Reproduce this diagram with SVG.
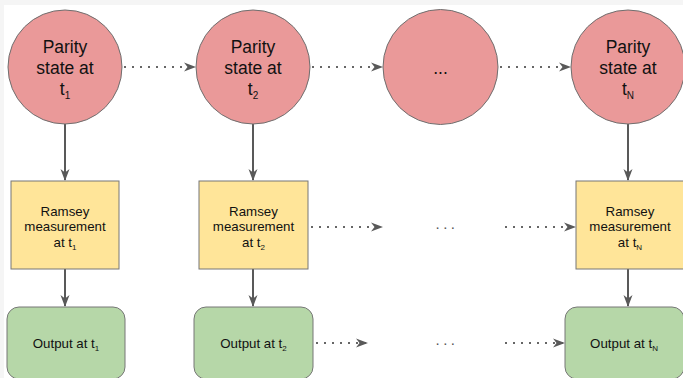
<svg xmlns="http://www.w3.org/2000/svg" width="683" height="378" viewBox="0 0 683 378">
<style>
.circ{fill:#ea9999;stroke:#6f6f6f;stroke-width:1}
.ram{fill:#ffe599;stroke:#777;stroke-width:1}
.out{fill:#b6d7a8;stroke:#777;stroke-width:1}
.t{font-family:"Liberation Sans",Arial,sans-serif;fill:#111;text-anchor:middle}
.big{font-size:17.5px}
.mid{font-size:13.3px}
.solid{stroke:#595959;stroke-width:2;fill:none}
.dot{stroke:#666;stroke-width:2;fill:none;stroke-dasharray:2 6}
.dots{font-family:"Liberation Sans",Arial,sans-serif;fill:#555;font-size:15px;text-anchor:middle;letter-spacing:3.5px}
</style>
<defs>
<marker id="ah" markerWidth="12" markerHeight="10" refX="11" refY="5" orient="auto" markerUnits="userSpaceOnUse">
<path d="M0,0.5 L12,5 L0,9.5 L3.5,5 Z" fill="#595959"/>
</marker>
</defs>
<rect x="0" y="0" width="683" height="378" fill="#f5f5f5"/>
<rect x="4" y="5" width="679" height="373" fill="#ffffff"/>

<g id="connectors">
<line class="solid" x1="65" y1="124" x2="65" y2="180" marker-end="url(#ah)"/>
<line class="solid" x1="253" y1="124" x2="253" y2="180" marker-end="url(#ah)"/>
<line class="solid" x1="628" y1="124" x2="628" y2="180" marker-end="url(#ah)"/>
<line class="solid" x1="65" y1="269" x2="65" y2="306" marker-end="url(#ah)"/>
<line class="solid" x1="253" y1="269" x2="253" y2="306" marker-end="url(#ah)"/>
<line class="solid" x1="628" y1="269" x2="628" y2="306" marker-end="url(#ah)"/>
<line class="dot" x1="124" y1="67" x2="195" y2="67" marker-end="url(#ah)"/>
<line class="dot" x1="312" y1="67" x2="382" y2="67" marker-end="url(#ah)"/>
<line class="dot" x1="500" y1="67" x2="570" y2="67" marker-end="url(#ah)"/>
<line class="dot" x1="311" y1="227" x2="382" y2="227" marker-end="url(#ah)"/>
<line class="dot" x1="505" y1="227" x2="575" y2="227" marker-end="url(#ah)"/>
<line class="dot" x1="316" y1="343" x2="367" y2="343" marker-end="url(#ah)"/>
<line class="dot" x1="505" y1="343" x2="564" y2="343" marker-end="url(#ah)"/>
<text class="dots" x="447" y="229">...</text>
<text class="dots" x="447" y="345">...</text>
</g>

<g id="parity1">
<circle class="circ" cx="65" cy="67" r="57"/>
<text class="t big" x="65" y="53">Parity</text>
<text class="t big" x="65" y="74">state at</text>
<text class="t big" x="65" y="95">t<tspan font-size="10" dy="4">1</tspan></text>
</g>
<g id="parity2">
<circle class="circ" cx="253" cy="67" r="57"/>
<text class="t big" x="253" y="53">Parity</text>
<text class="t big" x="253" y="74">state at</text>
<text class="t big" x="253" y="95">t<tspan font-size="10" dy="4">2</tspan></text>
</g>
<g id="parity3">
<circle class="circ" cx="440.5" cy="67" r="57.5"/>
<text class="t big" x="440.5" y="74">...</text>
</g>
<g id="parityN">
<circle class="circ" cx="628" cy="67" r="57"/>
<text class="t big" x="628" y="53">Parity</text>
<text class="t big" x="628" y="74">state at</text>
<text class="t big" x="628" y="95">t<tspan font-size="10" dy="4">N</tspan></text>
</g>

<g id="ramsey1">
<rect class="ram" x="11" y="181" width="108" height="88"/>
<text class="t mid" x="65" y="215.5">Ramsey</text>
<text class="t mid" x="65" y="231">measurement</text>
<text class="t mid" x="65" y="246.5">at t<tspan font-size="8" dy="3">1</tspan></text>
</g>
<g id="ramsey2">
<rect class="ram" x="199" y="181" width="109" height="88"/>
<text class="t mid" x="253.5" y="215.5">Ramsey</text>
<text class="t mid" x="253.5" y="231">measurement</text>
<text class="t mid" x="253.5" y="246.5">at t<tspan font-size="8" dy="3">2</tspan></text>
</g>
<g id="ramseyN">
<rect class="ram" x="576" y="181" width="108" height="88"/>
<text class="t mid" x="630" y="215.5">Ramsey</text>
<text class="t mid" x="630" y="231">measurement</text>
<text class="t mid" x="630" y="246.5">at t<tspan font-size="8" dy="3">N</tspan></text>
</g>

<g id="output1">
<rect class="out" x="7" y="307" width="118" height="72" rx="12"/>
<text class="t mid" x="66" y="347.5">Output at t<tspan font-size="8" dy="3">1</tspan></text>
</g>
<g id="output2">
<rect class="out" x="194" y="307" width="119" height="72" rx="12"/>
<text class="t mid" x="253.5" y="347.5">Output at t<tspan font-size="8" dy="3">2</tspan></text>
</g>
<g id="outputN">
<rect class="out" x="565" y="307" width="119" height="72" rx="12"/>
<text class="t mid" x="624" y="347.5">Output at t<tspan font-size="8" dy="3">N</tspan></text>
</g>
</svg>
